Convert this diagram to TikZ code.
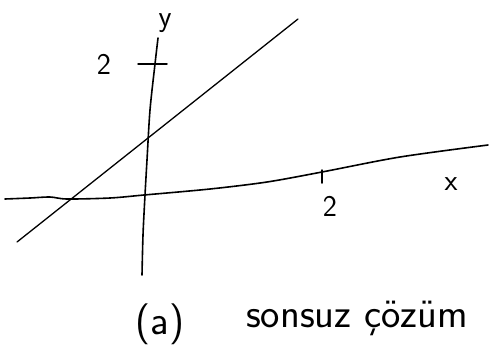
\documentclass[tikz,border=0pt]{standalone}
\usepackage{fontspec}
\usepackage{tikz}
\usetikzlibrary{positioning,calc}
\tikzset{
  figfont/.style={font=\fontsize{30}{32}\selectfont\sffamily},
  figcapfont/.style={font=\fontsize{41}{43}\selectfont\sffamily},
  figaxis/.style={line width=1.6pt, line cap=round},
  figline/.style={line width=1.3pt, line cap=round},
  figtick/.style={line width=1.5pt, line cap=round},
}

\begin{document}
\begin{tikzpicture}[x=1pt, y=-1pt, figfont]
		\useasboundingbox (0,0) rectangle (489,354);

		% Axes (hand drawn, slightly bent)
		\draw[figaxis] plot[smooth] coordinates {(5,199) (30,198) (50,197) (67,199) (110,198) (144,195) (210,189) (267,182) (322,172) (400,157) (488,145)};
		\draw[figaxis] plot[smooth] coordinates {(142,275) (143,235) (145,195) (147,160) (150,110) (155,64) (158,38)};
		\node (xlab) at (451,184) {x};
		\node (ylab) at (165,23) {y};

		% Ticks
		\coordinate (ytickl) at (138,64);
		\coordinate (ytickr) at (167,64);
		\draw[figtick] (ytickl) -- (ytickr);
		\node (ytwo) at (104,64) {2};
		\coordinate (xtickt) at (322,170);
		\coordinate (xtickb) at (322,183);
		\draw[figtick] (xtickt) -- (xtickb);
		\node (xtwo) at (330,206) {2};

		% Straight line
		\coordinate (linea) at (17,242);
		\coordinate (lineb) at (298,19);
		\draw[figline] (linea) -- (lineb);

		% Caption
		\node[figcapfont] (captag) at (160,324) {(a)};
		\node[figcapfont] (captext) at (357,318) {sonsuz çözüm};
	\end{tikzpicture}
\end{document}
